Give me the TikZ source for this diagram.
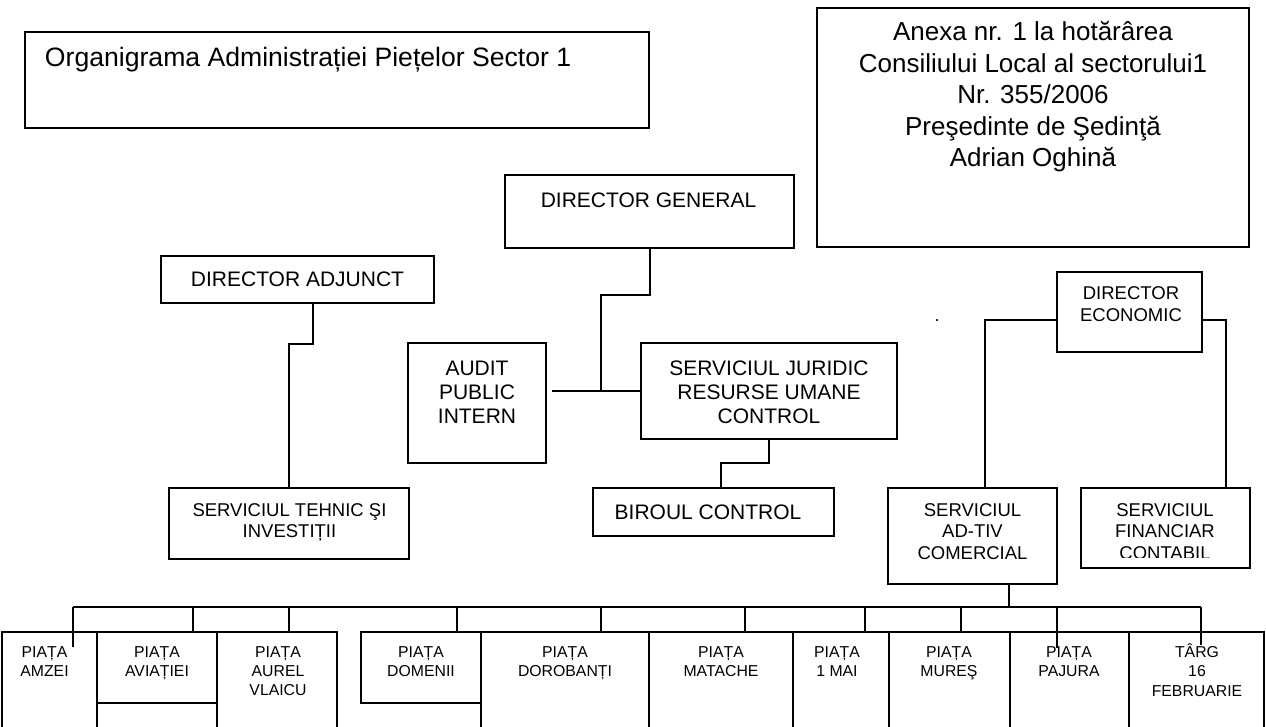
\documentclass[tikz,border=0pt]{standalone}
\usepackage{fontspec}
\setmainfont{Liberation Sans}
\usetikzlibrary{fit}
\begin{document}
\begin{tikzpicture}[x=0.5pt,y=-0.5pt,
  box/.style={draw, line width=1pt, inner sep=0pt, outer sep=0pt},
  conn/.style={line width=1pt},
  tT/.style={inner sep=0pt, outer sep=0pt, anchor=base west, font=\fontsize{13.3}{15}\selectfont},
  tA/.style={inner sep=0pt, outer sep=0pt, anchor=base, font=\fontsize{13}{15}\selectfont},
  tB/.style={inner sep=0pt, outer sep=0pt, anchor=base, font=\fontsize{10.5}{12}\selectfont},
  tC/.style={inner sep=0pt, outer sep=0pt, anchor=base, font=\fontsize{9.25}{11}\selectfont},
  tD/.style={inner sep=0pt, outer sep=0pt, anchor=base, font=\fontsize{7.9}{9.5}\selectfont}]
\useasboundingbox (0,0) rectangle (1266,727);
\clip (0,0) rectangle (1266,727);
\fill[white] (0,0) rectangle (1266,727);

% title
\node[box, fit={(25,32) (649,128)}] (title) {};
\node[tT] (titlet) at (45,67) {Organigrama Administrației Piețelor Sector 1};

% annex
\node[box, fit={(817,8) (1249,247)}] (anexa) {};
\node[tA] (an1) at (1033,41) {Anexa nr. 1 la hotărârea};
\node[tA] (an2) at (1033,72.5) {Consiliului Local al sectorului1};
\node[tA] (an3) at (1033,104) {Nr. 355/2006};
\node[tA] (an4) at (1033,135.5) {Preşedinte de Şedinţă};
\node[tA] (an5) at (1033,167) {Adrian Oghină};

% director general
\node[box, fit={(505,175) (794,248)}] (dg) {};
\node[tB] (dgt) at (648.5,207.5) {DIRECTOR GENERAL};

% director adjunct
\node[box, fit={(161,256) (434,303)}] (da) {};
\node[tB] (dat) at (297.5,286.5) {DIRECTOR ADJUNCT};

% audit
\node[box, fit={(408,343) (546,463)}] (audit) {};
\node[tB] (aud1) at (477,375.5) {AUDIT};
\node[tB] (aud2) at (477,399.5) {PUBLIC};
\node[tB] (aud3) at (477,423.5) {INTERN};

% serviciul juridic
\node[box, fit={(641,343) (897,439)}] (sj) {};
\node[tB] (sj1) at (769,375.5) {SERVICIUL JURIDIC};
\node[tB] (sj2) at (769,399.5) {RESURSE UMANE};
\node[tB] (sj3) at (769,423.5) {CONTROL};

% biroul control
\node[box, fit={(593,488) (834,536)}] (bc) {};
\node[tB] (bct) at (708,519.5) {BIROUL CONTROL};

% serviciul tehnic
\node[box, fit={(169,488) (409,559)}] (st) {};
\node[tC] (st1) at (289.5,516.6) {SERVICIUL TEHNIC ŞI};
\node[tC] (st2) at (289.5,537.6) {INVESTIȚII};

% director economic
\node[box, fit={(1057,272) (1202,352)}] (de) {};
\node[tC] (de1) at (1131,299.6) {DIRECTOR};
\node[tC] (de2) at (1131,321.6) {ECONOMIC};
\node[inner sep=0pt, font=\fontsize{9}{10}\selectfont, anchor=base] (dot) at (937,322) {.};

% serviciul ad-tiv comercial
\node[box, fit={(888,488) (1057,584)}] (adtiv) {};
\node[tC] (ad1) at (972.5,516.6) {SERVICIUL};
\node[tC] (ad2) at (972.5,537.6) {AD-TIV};
\node[tC] (ad3) at (972.5,559.6) {COMERCIAL};

% serviciul financiar contabil
\node[box, fit={(1081,488) (1250,568)}] (fin) {};
\node[tC] (fi1) at (1165,516.6) {SERVICIUL};
\node[tC] (fi2) at (1165,537.6) {FINANCIAR};
\begin{scope}
\clip (1081,488) rectangle (1250,557.5);
\node[tC] (fi3) at (1165,559.6) {CONTABIL};
\end{scope}

% piete
\node[box, fit={(2,632) (97,745)}] (amzei) {};
\node[tD] (amz1) at (44.5,657.5) {PIAȚA};
\node[tD] (amz2) at (44.5,676) {AMZEI};

\node[box, fit={(97,632) (217,703)}] (aviatiei) {};
\node[box, fit={(97,703) (217,745)}] (aviatiei2) {};
\node[tD] (avi1) at (157,657.5) {PIAȚA};
\node[tD] (avi2) at (157,676) {AVIAȚIEI};

\node[box, fit={(217,632) (337,745)}] (aurel) {};
\node[tD] (aur1) at (278,657.5) {PIAȚA};
\node[tD] (aur2) at (278,676) {AUREL};
\node[tD] (aur3) at (278,695.5) {VLAICU};

\node[box, fit={(361,632) (481,703)}] (domenii) {};
\node[tD] (dom1) at (421,657.5) {PIAȚA};
\node[tD] (dom2) at (421,676) {DOMENII};

\node[box, fit={(481,632) (649,745)}] (dorobanti) {};
\node[tD] (dor1) at (565,657.5) {PIAȚA};
\node[tD] (dor2) at (565,676) {DOROBANȚI};

\node[box, fit={(649,632) (793,745)}] (matache) {};
\node[tD] (mat1) at (721,657.5) {PIAȚA};
\node[tD] (mat2) at (721,676) {MATACHE};

\node[box, fit={(793,632) (889,745)}] (unumai) {};
\node[tD] (mai1) at (837,657.5) {PIAȚA};
\node[tD] (mai2) at (837,676) {1 MAI};

\node[box, fit={(889,632) (1010,745)}] (mures) {};
\node[tD] (mur1) at (949,657.5) {PIAȚA};
\node[tD] (mur2) at (949,676) {MUREŞ};

\node[box, fit={(1010,632) (1129,745)}] (pajura) {};
\node[tD] (paj1) at (1069,657.5) {PIAȚA};
\node[tD] (paj2) at (1069,676) {PAJURA};

\node[box, fit={(1129,632) (1264,745)}] (targ) {};
\node[tD] (tar1) at (1197,657.5) {TÂRG};
\node[tD] (tar2) at (1197,676) {16};
\node[tD] (tar3) at (1197,697) {FEBRUARIE};

% connectors
\coordinate (dgk) at (601,295);
\draw[conn] (dg.south) |- (dgk) -- (dgk |- sj.west);
\coordinate (audr) at (552,391);
\draw[conn] (audr) -- (sj.west);

\coordinate (da1) at (313,344);
\draw[conn] (da.south -| da1) -- (da1) -| (st.north);

\coordinate (bck) at (721,463);
\draw[conn] (sj.south) |- (bck) -- (bck |- bc.north);

\coordinate (del) at (985,320);
\draw[conn] (de.west |- del) -- (del) -- (del |- adtiv.north);
\coordinate (der) at (1226,320);
\draw[conn] (de.east |- der) -- (der) -- (der |- fin.north);

\coordinate (busa) at (1009,607);
\draw[conn] (adtiv.south -| busa) -- (busa);
\coordinate (busL) at (73,607);
\coordinate (busR) at (1201,607);
\draw[conn] (busL) -- (busR);

\coordinate (amzd) at (73,647);
\draw[conn] (busL) -- (amzd);
\coordinate (b1) at (193,607);
\draw[conn] (b1) -- (b1 |- aviatiei.north);
\coordinate (b2) at (289,607);
\draw[conn] (b2) -- (b2 |- aurel.north);
\coordinate (b3) at (457,607);
\draw[conn] (b3) -- (b3 |- domenii.north);
\coordinate (b4) at (601,607);
\draw[conn] (b4) -- (b4 |- dorobanti.north);
\coordinate (b5) at (745,607);
\draw[conn] (b5) -- (b5 |- matache.north);
\coordinate (b6) at (865,607);
\draw[conn] (b6) -- (b6 |- unumai.north);
\coordinate (b7) at (961,607);
\draw[conn] (b7) -- (b7 |- mures.north);
\coordinate (b8) at (1057,607);
\coordinate (pajd) at (1057,648);
\draw[conn] (b8) -- (pajd);
\coordinate (targd) at (1201,645);
\draw[conn] (busR) -- (targd);
\end{tikzpicture}
\end{document}
